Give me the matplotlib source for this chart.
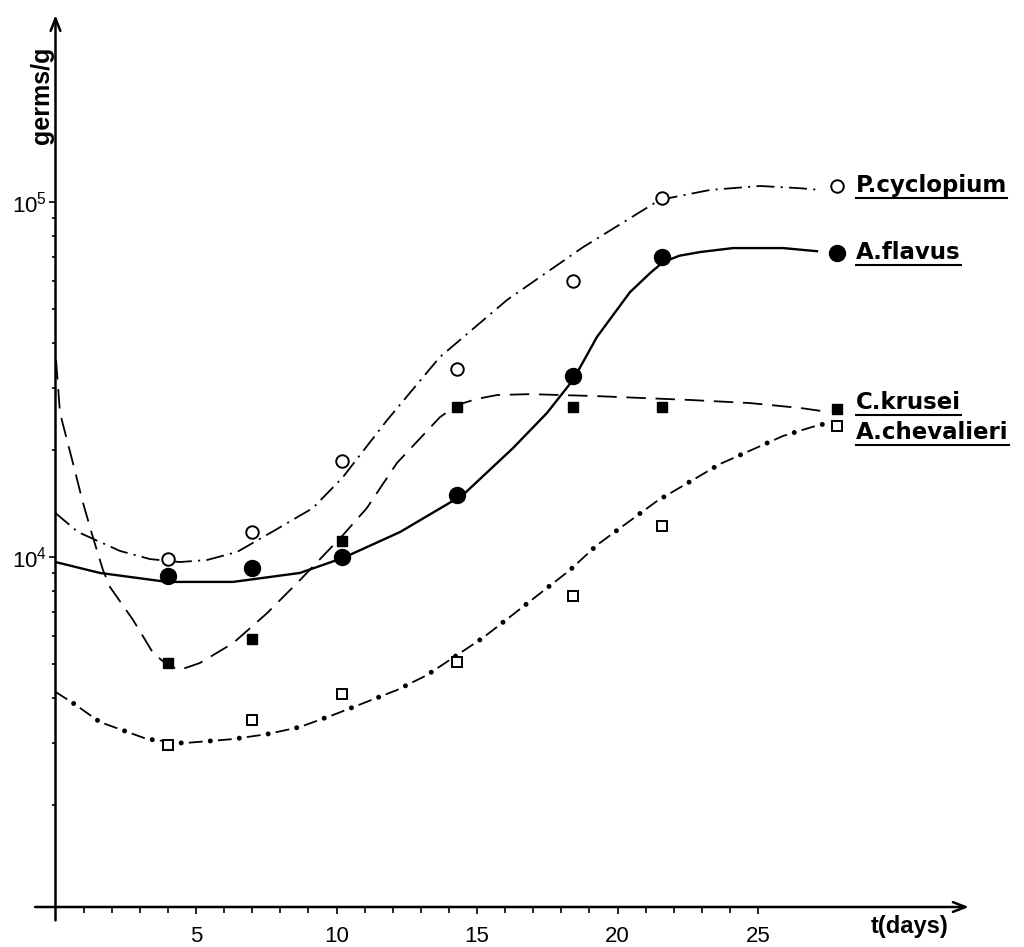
import matplotlib
matplotlib.use("Agg")
from matplotlib import pyplot as plt
from matplotlib.ticker import FixedLocator, NullFormatter
from matplotlib.lines import Line2D

plt.rcParams['font.family'] = ['Liberation Sans', 'DejaVu Sans']
plt.rcParams['lines.scale_dashes'] = False

# sampling days
days = [4, 7, 10.2, 14.3, 18.4, 21.6, 27.8]

# measured counts, germs/g
p_cyclopium = [9900, 11800, 18700, 33900, 59800, 103000, 111000]
a_flavus = [8840, 9300, 10000, 15000, 32300, 70000, 72000]
c_krusei = [5030, 5870, 11100, 26500, 26500, 26500, 26100]
a_chevalieri = [2960, 3480, 4110, 5060, 7770, 12200, 23400]

names = ["P.cyclopium", "A.flavus", "C.krusei", "A.chevalieri"]

# hand drawn trend curves
pc_t = [0, 0.8, 2.3, 3.36, 4.43, 5.39, 6.46, 7.81, 9.16, 10.23, 11.8, 13.68,
        16.07, 18.77, 21.5, 23.3, 25.07, 26.5, 27.2]
pc_y = [13300, 11760, 10400, 9870, 9680, 9810, 10330, 11900, 13740, 16800,
        24300, 36600, 53000, 74600, 101400, 108200, 111000, 109400, 108200]

af_t = [0, 1.58, 3.97, 6.32, 8.7, 10.23, 12.26, 14.5, 16.28, 17.49, 18.42,
        19.27, 20.44, 21.2, 21.62, 22.2, 22.93, 24.11, 25.89, 27.1]
af_y = [9680, 9020, 8510, 8510, 9020, 9940, 11760, 14960, 20270, 25460,
        31550, 41700, 55700, 63500, 67700, 70600, 72300, 74200, 74200, 72700]

ck_t = [0.02, 0.16, 0.62, 0.98, 1.33, 1.69, 1.94, 2.76, 3.47, 4.0, 4.43, 5.14,
        6.32, 7.53, 8.7, 10.23, 11.08, 12.15, 13.68, 14.29, 15.0, 15.71, 16.89,
        19.27, 22.58, 24.71, 26.5, 27.56]
ck_y = [35900, 25470, 18400, 14200, 11380, 9190, 8230, 6650, 5370, 4950, 4810,
        5030, 5720, 6950, 8610, 11530, 13740, 18400, 24770, 26800, 27900,
        28600, 28770, 28400, 27700, 27150, 26300, 25590]

ac_t = [0, 0.62, 1.58, 3.26, 4.54, 6.32, 7.53, 8.7, 9.88, 12.15, 13.22,
        15.21, 16.17, 18.31, 19.27, 21.41, 23.65, 25.89, 26.92, 27.46]
ac_y = [4170, 3880, 3430, 3070, 2990, 3070, 3170, 3320, 3590, 4220, 4650,
        5920, 6780, 9190, 10810, 14390, 18290, 21930, 23240, 23830]

fig = plt.figure(figsize=(10.24, 9.47), dpi=100)
ax = fig.add_axes([55.5 / 1024, 40 / 947, 927.3 / 1024, 892 / 947])
ax.set_yscale('log')
ax.set_xlim(0, 33)
ax.set_ylim(10 ** 3.0141, 10 ** 5.527)

# curves
ax.plot(pc_t, pc_y, color='k', lw=1.3, linestyle=(0, (13, 4.5, 1.5, 4.5)),
        solid_joinstyle='round')
ax.plot(af_t, af_y, color='k', lw=1.7, solid_joinstyle='round')
ax.plot(ck_t, ck_y, color='k', lw=1.3, linestyle=(0, (14, 7)))
ax.plot(ac_t, ac_y, color='k', lw=1.3, linestyle=(0, (10, 11)))
ax.plot(ac_t, ac_y, color='k', lw=3.6, linestyle=(-15.5, (0.01, 20.99)),
        dash_capstyle='round')

# measured points
ax.plot(days, p_cyclopium, 'o', ms=9, mfc='white', mec='k', mew=1.4)
ax.plot(days, a_flavus, 'o', ms=11.5, mfc='k', mec='k')
ax.plot(days, c_krusei, 's', ms=7.5, mfc='k', mec='k')
ax.plot(days, a_chevalieri, 's', ms=7.5, mfc='white', mec='k', mew=1.4)

# species labels next to the last point
offsets = [0, 0, 5, -5]
last = [p_cyclopium[-1], a_flavus[-1], c_krusei[-1], a_chevalieri[-1]]
labels = []
for name, val, dy in zip(names, last, offsets):
    t = ax.annotate(name, xy=(days[-1], val), xytext=(14, dy),
                    textcoords='offset points', va='center', ha='left',
                    fontsize=16.5, fontweight='bold', family='DejaVu Sans',
                    annotation_clip=False)
    labels.append(t)

# axes with arrows
for s in ax.spines.values():
    s.set_visible(False)
ax.annotate('', xy=(0.985, 0), xytext=(-0.022, 0), xycoords='axes fraction',
            arrowprops=dict(arrowstyle='->,head_length=0.9,head_width=0.35',
                            lw=1.8, color='k', shrinkA=0, shrinkB=0))
ax.annotate('', xy=(0, 1.0), xytext=(0, -0.015), xycoords='axes fraction',
            arrowprops=dict(arrowstyle='->,head_length=0.9,head_width=0.35',
                            lw=1.8, color='k', shrinkA=0, shrinkB=0))

ax.xaxis.set_major_locator(FixedLocator([5, 10, 15, 20, 25]))
ax.xaxis.set_minor_locator(FixedLocator(range(1, 26)))
ax.set_xticklabels(['5', '10', '15', '20', '25'])
ax.tick_params(axis='x', which='both', direction='out', length=4, width=1.2,
               labelsize=16, pad=9)
ax.tick_params(axis='x', which='major', length=5)

ax.yaxis.set_major_locator(FixedLocator([1e4, 1e5]))
ax.yaxis.set_minor_locator(FixedLocator([m * 10 ** e for e in (3, 4)
                                         for m in range(2, 10)]))
ax.yaxis.set_minor_formatter(NullFormatter())
ax.set_yticklabels([r'$\mathregular{10^4}$', r'$\mathregular{10^5}$'])
ax.tick_params(axis='y', which='minor', direction='out', length=3, width=1.2)
ax.tick_params(axis='y', which='major', direction='out', length=5, width=1.2,
               labelsize=16, pad=1)

ax.text(-0.0146, 0.91, 'germs/g', transform=ax.transAxes, rotation=90,
        ha='center', va='center', fontsize=18, fontweight='bold')
ax.text(0.921, -0.022, 't(days)', transform=ax.transAxes, ha='center',
        va='center', fontsize=17, fontweight='bold')

# underline the species names
fig.canvas.draw()
renderer = fig.canvas.get_renderer()
inv = fig.transFigure.inverted()
for t in labels:
    bb = t.get_window_extent(renderer)
    (x0, y0), (x1, _) = inv.transform([(bb.x0, bb.y0 - 1), (bb.x1, bb.y0)])
    fig.add_artist(Line2D([x0, x1], [y0, y0], transform=fig.transFigure,
                          color='k', lw=1.5))

fig.savefig('out.png', dpi=100)
